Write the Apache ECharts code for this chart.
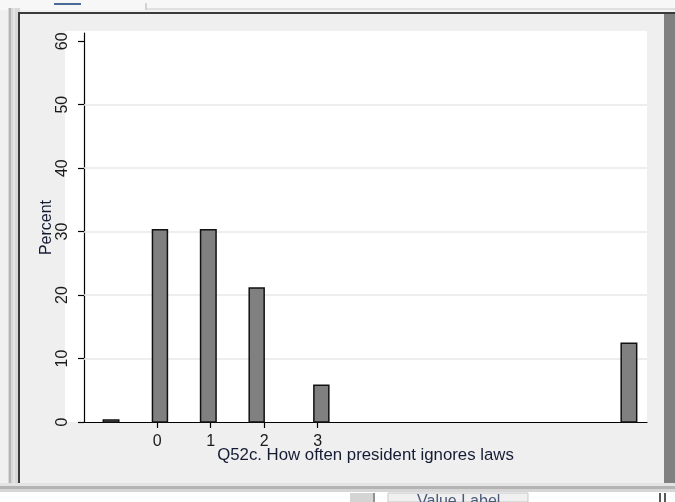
<!DOCTYPE html>
<html>
<head>
<meta charset="utf-8">
<script src="https://cdn.jsdelivr.net/npm/echarts@6/dist/echarts.min.js"></script>
<style>
  html, body { margin: 0; padding: 0; background: #f0f0f0; }
  #chart { width: 675px; height: 502px; }
</style>
</head>
<body>
<div id="chart"></div>
<script>
// Histogram of Q52c: each bin is [binStart, binEnd] with its percent of respondents
const binStart = [-1.01, -0.09, 0.81, 1.72, 2.93, 8.68];
const binEnd   = [-0.72,  0.19, 1.10, 2.00, 3.21, 8.97];
const percent  = [0.3, 30.3, 30.3, 21.1, 5.8, 12.4];

const xTicks = [0, 1, 2, 3];
const yTicks = [0, 10, 20, 30, 40, 50, 60];
const yGrid  = [10, 20, 30, 40, 50];

const xTitle = 'Q52c. How often president ignores laws';
const yTitle = 'Percent';

const FONT = '"Liberation Sans", Arial, sans-serif';

const bins = binStart.map((s, i) => [s, binEnd[i], percent[i]]);

const chart = echarts.init(document.getElementById('chart'), null, { renderer: 'canvas' });

// window chrome around the graph
const frame = [
  { type: 'rect', shape: { x: 0, y: 0, width: 675, height: 502 }, style: { fill: '#f0f0f0' }, z: -20 },
  { type: 'rect', shape: { x: 0, y: 0, width: 675, height: 10 }, style: { fill: '#f7f7f7' }, z: -19 },
  { type: 'rect', shape: { x: 54, y: 3, width: 27, height: 2 }, style: { fill: '#4a6a9a' }, z: -18 },
  { type: 'line', shape: { x1: 146, y1: 3, x2: 146, y2: 10 }, style: { stroke: '#b0b0b0', lineWidth: 1 }, z: -18 },
  { type: 'line', shape: { x1: 146, y1: 9, x2: 675, y2: 9 }, style: { stroke: '#c8c8c8', lineWidth: 1 }, z: -18 },
  { type: 'rect', shape: { x: 8, y: 8, width: 12, height: 485 }, style: { fill: '#d8d8d8' }, z: -19 },
  { type: 'line', shape: { x1: 10, y1: 8, x2: 10, y2: 493 }, style: { stroke: '#a8a8a8', lineWidth: 1.5 }, z: -18 },
  { type: 'line', shape: { x1: 14, y1: 8, x2: 14, y2: 493 }, style: { stroke: '#e8e8e8', lineWidth: 1.5 }, z: -18 },
  { type: 'rect', shape: { x: 18, y: 12, width: 657, height: 2 }, style: { fill: '#3a3a3a' }, z: -17 },
  { type: 'rect', shape: { x: 18, y: 12, width: 2, height: 472 }, style: { fill: '#3a3a3a' }, z: -17 },
  { type: 'rect', shape: { x: 20, y: 14, width: 644, height: 469 }, style: { fill: '#efefef' }, z: -16 },
  { type: 'rect', shape: { x: 664, y: 14, width: 11, height: 469 }, style: { fill: '#808080' }, z: -16 },
  { type: 'rect', shape: { x: 0, y: 483, width: 675, height: 3 }, style: { fill: '#e4e4e4' }, z: -16 },
  { type: 'rect', shape: { x: 0, y: 486, width: 675, height: 3 }, style: { fill: '#b4b4b4' }, z: -16 },
  { type: 'rect', shape: { x: 0, y: 489, width: 675, height: 3 }, style: { fill: '#d6d6d6' }, z: -16 },
  { type: 'rect', shape: { x: 0, y: 492, width: 675, height: 10 }, style: { fill: '#ffffff' }, z: -16 },
  { type: 'rect', shape: { x: 350, y: 493, width: 23, height: 9 }, style: { fill: '#d4d4d4' }, z: -15 },
  { type: 'line', shape: { x1: 374, y1: 493, x2: 374, y2: 502 }, style: { stroke: '#222', lineWidth: 1 }, z: -15 },
  { type: 'rect', shape: { x: 388, y: 493, width: 140, height: 9 }, style: { fill: '#f0f0f0', stroke: '#c8c8c8', lineWidth: 1 }, z: -15 },
  { type: 'text', x: 417, y: 494, style: { text: 'Value Label', font: '16px ' + FONT, fill: '#4a5a7a' }, z: -14 },
  { type: 'line', shape: { x1: 660, y1: 493, x2: 660, y2: 502 }, style: { stroke: '#222', lineWidth: 1.5 }, z: -15 },
  { type: 'line', shape: { x1: 665, y1: 493, x2: 665, y2: 502 }, style: { stroke: '#222', lineWidth: 1.5 }, z: -15 },
  // plot region
  { type: 'rect', shape: { x: 65, y: 31, width: 582, height: 391 }, style: { fill: '#ffffff' }, z: -10 }
];

chart.setOption({
  animation: false,
  backgroundColor: 'transparent',
  graphic: { elements: frame },
  grid: { left: 84, right: 28, top: 33, bottom: 80, containLabel: false },
  xAxis: {
    type: 'value',
    min: -1.371,
    max: 9.163,
    name: xTitle,
    nameLocation: 'middle',
    nameGap: 25,
    nameMoveOverlap: false,
    nameTextStyle: { fontFamily: FONT, fontSize: 16.8, color: '#141c34' },
    axisLine: { show: true, onZero: false, lineStyle: { color: '#000', width: 1.2 } },
    axisTick: { show: true, customValues: xTicks, length: 6, lineStyle: { color: '#000', width: 1.2 } },
    axisLabel: { customValues: xTicks, margin: 12, fontFamily: FONT, fontSize: 16, color: '#1a1a1a' },
    splitLine: { show: false }
  },
  yAxis: {
    type: 'value',
    min: 0,
    max: 61.3,
    name: yTitle,
    nameLocation: 'middle',
    nameGap: 29,
    nameMoveOverlap: false,
    nameTextStyle: { fontFamily: FONT, fontSize: 16, color: '#141c34' },
    axisLine: { show: true, onZero: false, lineStyle: { color: '#000', width: 1.2 } },
    axisTick: { show: true, customValues: yTicks, length: 6, lineStyle: { color: '#000', width: 1.2 } },
    axisLabel: { customValues: yTicks, rotate: 90, margin: 13, fontFamily: FONT, fontSize: 16, color: '#1a1a1a' },
    splitLine: { show: false }
  },
  series: [{
    type: 'custom',
    data: bins,
    encode: { x: [0, 1], y: 2 },
    renderItem: function (params, api) {
      const topLeft = api.coord([api.value(0), api.value(2)]);
      const bottomRight = api.coord([api.value(1), 0]);
      return {
        type: 'rect',
        shape: {
          x: topLeft[0],
          y: topLeft[1],
          width: bottomRight[0] - topLeft[0],
          height: bottomRight[1] - topLeft[1]
        },
        style: { fill: '#808080', stroke: '#111', lineWidth: 1.5 }
      };
    },
    markLine: {
      silent: true,
      symbol: 'none',
      label: { show: false },
      lineStyle: { color: '#e8e8e8', width: 1.5, type: 'solid' },
      data: yGrid.map(v => ({ yAxis: v })),
      z: 1
    },
    z: 3
  }]
});
</script>
</body>
</html>
